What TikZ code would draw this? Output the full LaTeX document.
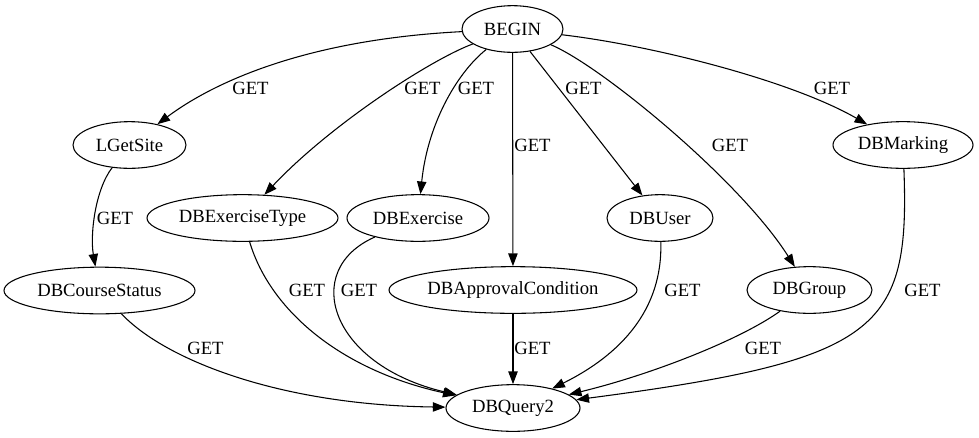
\documentclass[tikz,border=0pt]{standalone}
\usepackage{fontspec}
\setmainfont{Liberation Serif}
\usetikzlibrary{arrows.meta,shapes.geometric}
\begin{document}
\begin{tikzpicture}[x=0.75pt,y=-0.75pt,
  gvnode/.style={draw,ellipse,inner sep=0pt,minimum height=35pt,line width=0.8pt,font=\fontsize{14}{16}\selectfont},
  gvedge/.style={draw,line width=0.8pt,-{Triangle[length=9.5pt,width=7pt]}},
  lbl/.style={inner sep=0pt,font=\fontsize{14}{16}\selectfont}]
\useasboundingbox (0,0) rectangle (979,437);
% nodes
\node[gvnode,minimum width=75.75pt] (BEGIN) at (512.5,29) {BEGIN};
\node[gvnode,minimum width=84.75pt] (LGetSite) at (129.5,145) {LGetSite};
\node[gvnode,minimum width=105pt] (DBMarking) at (903,145) {DBMarking};
\node[gvnode,minimum width=143.25pt] (DBExerciseType) at (242.5,218) {DBExerciseType};
\node[gvnode,minimum width=106.5pt] (DBExercise) at (418,218) {DBExercise};
\node[gvnode,minimum width=79.5pt] (DBUser) at (660,218) {DBUser};
\node[gvnode,minimum width=186pt] (DBApprovalCondition) at (513,290) {DBApprovalCondition};
\node[gvnode,minimum width=93.75pt] (DBGroup) at (809.5,290) {DBGroup};
\node[gvnode,minimum width=143.25pt] (DBCourseStatus) at (99.5,290.5) {DBCourseStatus};
\node[gvnode,minimum width=100.5pt] (DBQuery2) at (513,408) {DBQuery2};
% edges from BEGIN
\path[gvedge] (BEGIN) .. controls (300,40) and (210,85) .. (LGetSite);
\path[gvedge] (BEGIN) .. controls (430,60) and (330,125) .. (DBExerciseType);
\path[gvedge] (BEGIN) .. controls (460,70) and (428,120) .. (DBExercise);
\path[gvedge] (BEGIN) -- (DBApprovalCondition);
\path[gvedge] (BEGIN) -- (DBUser);
\path[gvedge] (BEGIN) .. controls (600,65) and (740,180) .. (DBGroup);
\path[gvedge] (BEGIN) .. controls (650,45) and (790,80) .. (DBMarking);
% second level
\path[gvedge] (LGetSite) .. controls (95,190) and (90,235) .. (DBCourseStatus);
% to DBQuery2
\path[gvedge] (DBCourseStatus) .. controls (165,360) and (280,405) .. (DBQuery2);
\path[gvedge] (DBExerciseType) .. controls (270,310) and (340,370) .. (DBQuery2);
\path[gvedge] (DBExercise) .. controls (300,270) and (330,365) .. (DBQuery2);
\path[gvedge] (DBApprovalCondition) -- (DBQuery2);
\path[gvedge] (DBUser) .. controls (663,310) and (620,355) .. (DBQuery2);
\path[gvedge] (DBGroup) .. controls (740,340) and (650,375) .. (DBQuery2);
\path[gvedge] (DBMarking) .. controls (910,330) and (880,360) .. (DBQuery2);
% labels
\node[lbl] (l1) at (250.5,88) {GET};
\node[lbl] (l2) at (422.5,88) {GET};
\node[lbl] (l3) at (476,88) {GET};
\node[lbl] (l4) at (532.5,145) {GET};
\node[lbl] (l5) at (583.5,88) {GET};
\node[lbl] (l6) at (730,145) {GET};
\node[lbl] (l7) at (832,88) {GET};
\node[lbl] (l8) at (115,218) {GET};
\node[lbl] (l9) at (205.5,348) {GET};
\node[lbl] (l10) at (307,290) {GET};
\node[lbl] (l11) at (359,290) {GET};
\node[lbl] (l12) at (532.5,348) {GET};
\node[lbl] (l13) at (682.5,290) {GET};
\node[lbl] (l14) at (763,348) {GET};
\node[lbl] (l15) at (922.5,290) {GET};
\end{tikzpicture}
\end{document}
